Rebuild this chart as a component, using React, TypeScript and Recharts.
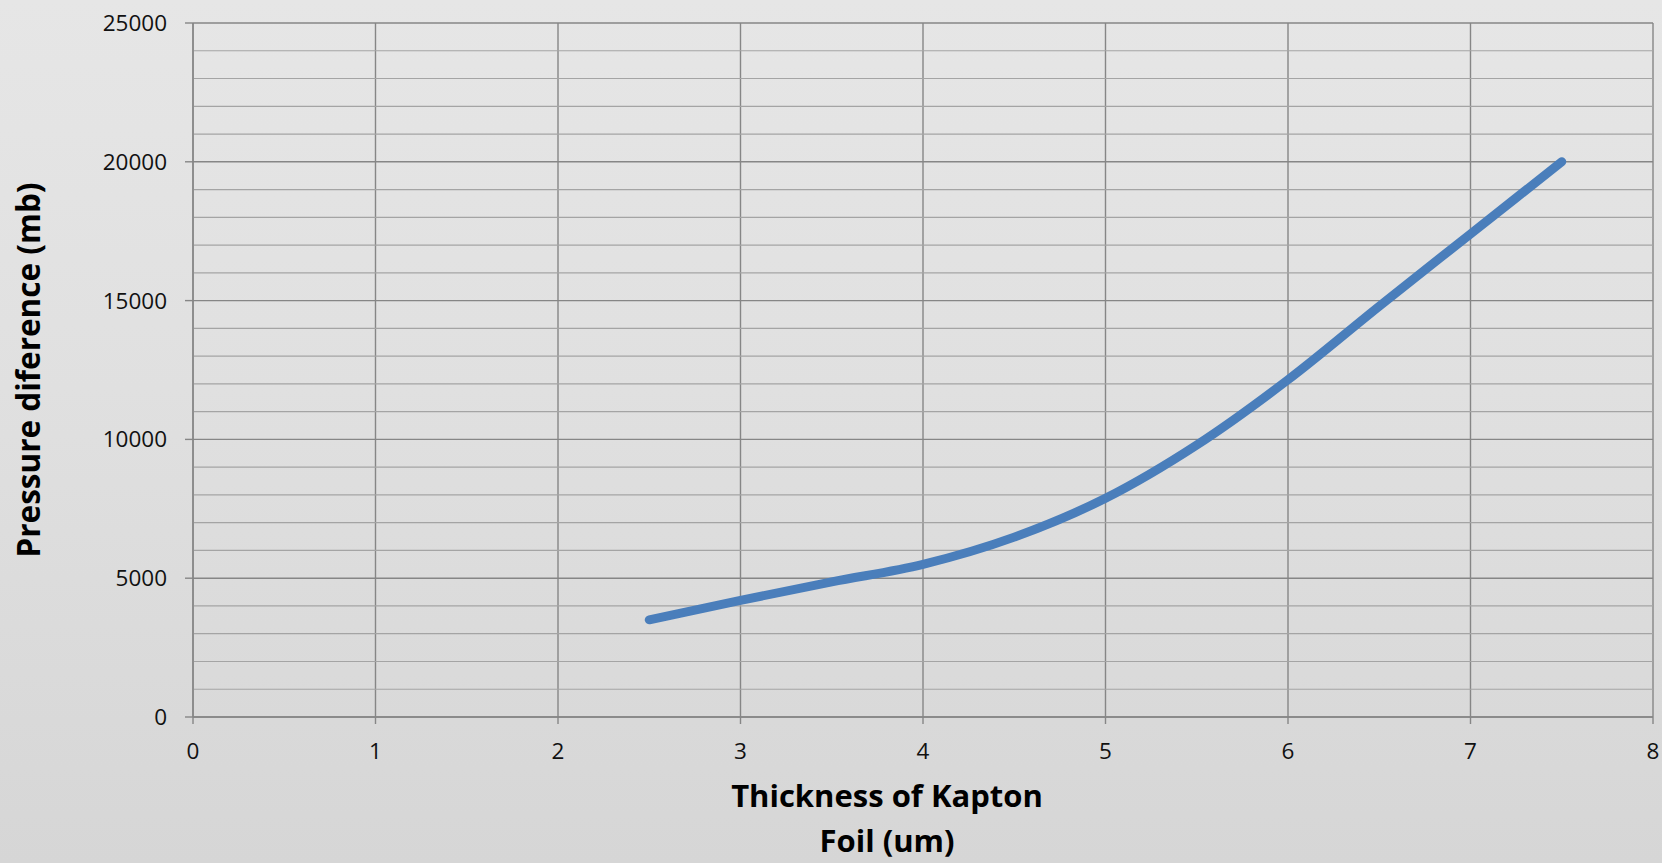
import React from 'react';
import { LineChart, Line, XAxis, YAxis, CartesianGrid, ReferenceLine, Label } from 'recharts';

const thickness = [2.5, 3, 3.5, 4, 4.5, 5, 5.5, 6, 6.5, 7, 7.5];
const pressure = [3500, 4200, 4870, 5500, 6480, 7880, 9800, 12150, 14800, 17400, 20000];
const xTicks = [0, 1, 2, 3, 4, 5, 6, 7, 8];
const yTicks = [0, 5000, 10000, 15000, 20000, 25000];
const yMinorTicks = [1000, 2000, 3000, 4000, 6000, 7000, 8000, 9000, 11000, 12000, 13000, 14000, 16000, 17000, 18000, 19000, 21000, 22000, 23000, 24000];
const xTitleLines = ['Thickness of Kapton', 'Foil (um)'];
const yTitle = 'Pressure diference (mb)';

const data = thickness.map((t, i) => ({ t, p: pressure[i] }));

const FONT = '"Open Sans", "Liberation Sans", sans-serif';

const XTitle = (props: any) => {
  const vb = props.viewBox || {};
  const cx = vb.x + vb.width / 2 - 36;
  return (
    <text textAnchor="middle" fontFamily={FONT} fontWeight={700} fontSize={31} fill="#000">
      {xTitleLines.map((l, i) => (
        <tspan key={i} x={cx} y={vb.y + 90 + i * 45}>{l}</tspan>
      ))}
    </text>
  );
};

const YTitle = (props: any) => {
  const vb = props.viewBox || {};
  const cy = vb.y + vb.height / 2;
  const x = 40;
  return (
    <text x={x} y={cy} transform={`rotate(-90, ${x}, ${cy})`} textAnchor="middle" fontFamily={FONT} fontWeight={700} fontSize={31.5} fill="#000">
      {yTitle}
    </text>
  );
};

export default function App() {
  return (
    <div style={{ position: 'fixed', left: 0, top: 0, width: 1662, height: 863, background: 'linear-gradient(180deg, #e6e6e6 0%, #e0e0e0 45%, #d6d6d6 100%)' }}>
      <LineChart width={1662} height={863} data={data} margin={{ top: 23, right: 9, left: 0, bottom: 0 }}>
        {yMinorTicks.map((v) => (
          <ReferenceLine key={v} y={v} stroke="#a4a4a4" strokeWidth={1.2} />
        ))}
        <CartesianGrid stroke="#868686" strokeWidth={1.4} />
        <XAxis
          dataKey="t"
          type="number"
          domain={[0, 8]}
          ticks={xTicks}
          interval={0}
          height={146}
          stroke="#868686"
          strokeWidth={1.4}
          tickSize={7}
          tickMargin={19}
          tick={{ fontFamily: FONT, fontSize: 22.5, fill: '#111' }}
          tickLine={{ stroke: '#868686' }}
        >
          <Label content={<XTitle />} />
        </XAxis>
        <YAxis
          type="number"
          domain={[0, 25000]}
          ticks={yTicks}
          interval={0}
          width={193}
          stroke="#868686"
          strokeWidth={1.4}
          tickSize={8}
          tickMargin={18}
          tick={{ fontFamily: FONT, fontSize: 22.5, fill: '#111' }}
          tickLine={{ stroke: '#868686' }}
        >
          <Label content={<YTitle />} />
        </YAxis>
        <Line
          dataKey="p"
          type="monotone"
          stroke="#4a7ebb"
          strokeWidth={9}
          strokeLinecap="round"
          dot={false}
          activeDot={false}
          isAnimationActive={false}
        />
      </LineChart>
    </div>
  );
}
